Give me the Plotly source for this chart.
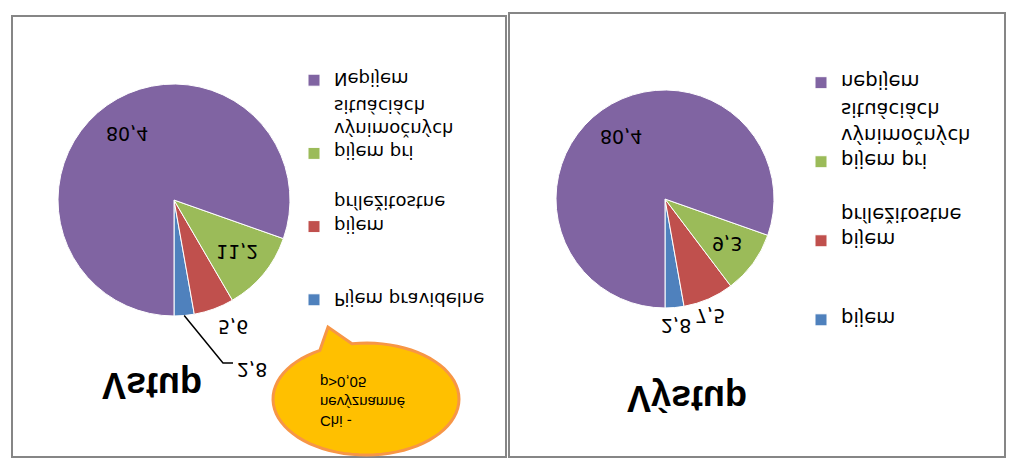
import math
import plotly.graph_objects as go

# the reference picture is an upside-down (vertically mirrored) office chart,
# so the figure is drawn normally and the page flips it with CSS at the end
W, H = 1016, 468

names_vstup = ["Pijem pravidelne", "pijem<br>príležitostne",
               "pijem pri<br>výnimočných<br>situáciách", "Nepijem"]
names_vystup = ["pijem", "pijem<br>príležitostne",
                "pijem pri<br>výnimočných<br>situáciách", "nepijem"]
values_vstup = [2.8, 5.6, 11.2, 80.4]
values_vystup = [2.8, 7.5, 9.3, 80.4]
titles = ["Vstup", "Výstup"]
note_lines = ["Chi -", "nevýznamné", "p&gt;0,05"]

colors = ["#4F81BD", "#C0504D", "#9BBB59", "#8064A2"]


def pad(name, tag, n=3):
    # pad to three lines so legend entries are evenly spaced; the tag keeps
    # equal labels of the two pies apart (plotly merges same pie labels)
    lines = name.split("<br>")
    lines += ["\u00a0"] * (n - len(lines))
    lines[-1] += tag
    return "<br>".join(lines)


def fmt(v):
    return f"{v:.1f}".replace(".", ",")


# pies: (center x, center y, radius) in displayed pixels
pies = [
    dict(vals=values_vstup, names=names_vstup, cx=174, cy=200, r=116, legend="legend", tag=""),
    dict(vals=values_vystup, names=names_vystup, cx=665, cy=199, r=109, legend="legend2",
         tag="\u200b"),
]

fig = go.Figure()
annotations = []
shapes = []

for p in pies:
    cx, cy, r = p["cx"], p["cy"], p["r"]
    fig.add_trace(go.Pie(
        labels=[pad(n, p["tag"]) for n in p["names"]],
        values=p["vals"],
        sort=False,
        direction="clockwise",
        rotation=0,
        textinfo="none",
        hoverinfo="skip",
        marker=dict(colors=colors, line=dict(color="white", width=1)),
        domain=dict(x=[(cx - r) / W, (cx + r) / W], y=[(cy - r) / H, (cy + r) / H]),
        legend=p["legend"],
    ))
    cum = 0
    for i, v in enumerate(p["vals"]):
        th = 2 * math.pi * (cum + v / 2) / 100
        cum += v
        k = 0.7 if v >= 9 else 1.17
        lx = cx + k * r * math.sin(th)
        ly = cy + k * r * math.cos(th)
        if p["legend"] == "legend" and i == 0:
            # small slice label pulled out with a leader line
            ex = cx + r * math.sin(th)
            ey = cy + r * math.cos(th)
            shapes.append(dict(type="path", xref="paper", yref="paper",
                               path=f"M{ex / W},{ey / H} L{223 / W},{363 / H} L{233 / W},{363 / H}",
                               line=dict(color="black", width=1.5)))
            lx, ly = 252, 370
        elif p["legend"] == "legend" and i == 1:
            lx += 12
        elif i == 1:
            lx -= 6
        annotations.append(dict(x=lx / W, y=ly / H, xref="paper", yref="paper",
                                xanchor="center", yanchor="middle",
                                text=fmt(v), showarrow=False,
                                font=dict(family="DejaVu Sans", size=19, color="black")))

# chart titles
annotations.append(dict(x=152 / W, y=386 / H, xref="paper", yref="paper", text=titles[0],
                        xanchor="center", yanchor="middle", showarrow=False,
                        font=dict(family="Liberation Sans", size=36, color="black", weight="bold")))
annotations.append(dict(x=687 / W, y=399 / H, xref="paper", yref="paper", text=titles[1],
                        xanchor="center", yanchor="middle", showarrow=False,
                        font=dict(family="Liberation Sans", size=36, color="black", weight="bold")))

# panel borders
shapes.append(dict(type="rect", xref="paper", yref="paper", x0=12 / W, x1=506 / W,
                   y0=16 / H, y1=457 / H, line=dict(color="#868686", width=2)))
shapes.append(dict(type="rect", xref="paper", yref="paper", x0=509 / W, x1=1005 / W,
                   y0=13 / H, y1=457 / H, line=dict(color="#868686", width=2)))

# speech bubble with the test note
ecx, ecy, erx, ery = 366, 399, 93, 56
t0, t1 = math.radians(-98.7), math.radians(240.3)
pts = []
for j in range(73):
    t = t0 + (t1 - t0) * j / 72
    pts.append((ecx + erx * math.cos(t), ecy + ery * math.sin(t)))
pts.append((328, 327))
path = "M" + " L".join(f"{x / W},{y / H}" for x, y in pts) + " Z"
shapes.append(dict(type="path", xref="paper", yref="paper", path=path,
                   fillcolor="#FFC000", line=dict(color="#F79646", width=3)))
annotations.append(dict(x=318 / W, y=402 / H, xref="paper", yref="paper",
                        xanchor="left", yanchor="middle", align="left", showarrow=False,
                        text="<br>".join(note_lines),
                        font=dict(family="Liberation Sans", size=15, color="black")))

legend_style = dict(xanchor="left", yanchor="top", valign="top", maxheight=H,
                    bgcolor="rgba(0,0,0,0)", tracegroupgap=0)
fig.update_layout(
    width=W, height=H,
    margin=dict(l=0, r=0, t=0, b=0),
    paper_bgcolor="white",
    plot_bgcolor="white",
    showlegend=True,
    legend=dict(x=294 / W, y=318 / H, font=dict(family="DejaVu Sans", size=18, color="black"),
                **legend_style),
    legend2=dict(x=801 / W, y=339 / H, font=dict(family="DejaVu Sans", size=19.5, color="black"),
                 **legend_style),
    annotations=annotations,
    shapes=shapes,
)

flip = ("document.body.style.margin='0';document.body.style.overflow='hidden';"
        "var gd=document.getElementById('{plot_id}');gd.style.transform='scaleY(-1)';")
fig.write_html("out.html", config={"displayModeBar": False}, post_script=flip)
